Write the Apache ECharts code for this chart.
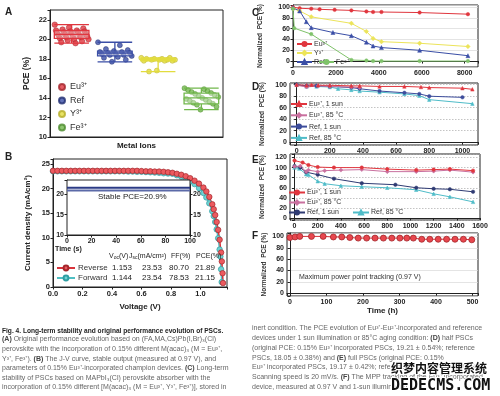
<!DOCTYPE html>
<html>
<head>
<meta charset="utf-8">
<script src="https://cdn.jsdelivr.net/npm/echarts@6/dist/echarts.min.js"></script>
<style>
html, body { margin: 0; padding: 0; background: #fff; }
#main { width: 500px; height: 396px; }
</style>
</head>
<body>
<div id="main"></div>
<script>
// ---- data ----
// A: PCE of individual devices per metal ion
const ionNames = ['Eu³⁺', 'Ref', 'Y³⁺', 'Fe³⁺'];
const pceEu = [21.5, 21.2, 21.1, 21.0, 20.9, 20.9, 20.8, 20.8, 20.7, 20.7, 20.6, 20.6, 20.5, 20.5, 20.4, 20.4, 20.3, 20.3, 20.2, 20.2, 20.1, 20.0, 20.0, 19.9, 19.8, 19.7, 19.6];
const pceRef = [19.7, 19.4, 19.0, 18.9, 18.8, 18.7, 18.7, 18.6, 18.6, 18.5, 18.5, 18.4, 18.4, 18.3, 18.2, 18.1, 17.9, 17.7];
const pceY = [18.1, 18.1, 18.0, 18.0, 18.0, 17.9, 17.9, 17.9, 17.9, 17.8, 17.8, 17.8, 16.8, 16.7];
const pceFe = [15.0, 14.9, 14.8, 14.7, 14.6, 14.5, 14.4, 14.3, 14.2, 14.1, 14.0, 13.9, 13.8, 13.7, 13.6, 13.5, 13.4, 13.3, 13.1, 12.8];
// box stats [min, Q1, median, Q3, max]
const boxEu = [19.6, 20.1, 20.5, 20.9, 21.5];
const boxRef = [17.7, 18.3, 18.6, 18.8, 19.7];
const boxY = [16.7, 17.8, 17.9, 18.0, 18.1];
const boxFe = [12.8, 13.4, 14.0, 14.5, 15.0];

// B: J-V curves
const vRev = [0.00, 0.03, 0.06, 0.09, 0.12, 0.15, 0.18, 0.21, 0.24, 0.27, 0.30, 0.33, 0.36, 0.39, 0.42, 0.45, 0.48, 0.51, 0.54, 0.57, 0.60, 0.63, 0.66, 0.69, 0.72, 0.75, 0.78, 0.81, 0.84, 0.87, 0.90, 0.93, 0.96, 0.99, 1.02, 1.04, 1.06, 1.08, 1.09, 1.10, 1.11, 1.12, 1.13, 1.14, 1.145, 1.15, 1.153];
const jRev = [23.6, 23.6, 23.6, 23.6, 23.6, 23.6, 23.6, 23.6, 23.6, 23.6, 23.6, 23.6, 23.6, 23.6, 23.6, 23.6, 23.6, 23.6, 23.6, 23.6, 23.55, 23.5, 23.5, 23.45, 23.45, 23.4, 23.3, 23.2, 23.0, 22.8, 22.5, 22.1, 21.6, 21.0, 20.2, 19.4, 18.3, 16.8, 15.8, 14.6, 13.2, 11.6, 9.6, 7.0, 5.2, 2.8, 0.8];
const vFwd = [0.00, 0.03, 0.06, 0.09, 0.12, 0.15, 0.18, 0.21, 0.24, 0.27, 0.30, 0.33, 0.36, 0.39, 0.42, 0.45, 0.48, 0.51, 0.54, 0.57, 0.60, 0.63, 0.66, 0.69, 0.72, 0.75, 0.78, 0.81, 0.84, 0.87, 0.90, 0.93, 0.96, 0.99, 1.02, 1.04, 1.06, 1.08, 1.09, 1.10, 1.11, 1.12, 1.13, 1.135, 1.14, 1.144];
const jFwd = [23.5, 23.5, 23.5, 23.5, 23.5, 23.5, 23.5, 23.5, 23.5, 23.5, 23.5, 23.5, 23.5, 23.5, 23.5, 23.5, 23.5, 23.45, 23.45, 23.4, 23.4, 23.35, 23.3, 23.25, 23.2, 23.1, 23.05, 23.0, 22.7, 22.4, 22.0, 21.5, 20.9, 20.1, 19.1, 18.2, 17.0, 15.4, 14.4, 13.2, 11.7, 9.9, 7.6, 6.2, 3.6, 1.0];
const paramHeader = ['(V)', '(mA/cm²)', 'FF(%)', 'PCE(%)'];
const paramRev = ['1.153', '23.53', '80.70', '21.89'];
const paramFwd = ['1.144', '23.54', '78.53', '21.15'];

// B inset: stable output
const tInset = [0, 10, 20, 30, 40, 50, 60, 70, 80, 90, 100];
const jInset = [21.6, 21.6, 21.6, 21.6, 21.6, 21.6, 21.6, 21.6, 21.6, 21.6, 21.6];
const pceInset = [20.9, 20.9, 20.9, 20.9, 20.9, 20.9, 20.9, 20.9, 20.9, 20.9, 20.9];

// C: storage stability (h)
const tCEu = [0, 310, 850, 1240, 1940, 2720, 3420, 3730, 4120, 5900, 8150];
const nCEu = [100, 98, 97, 96, 95, 94, 92, 91, 91, 90, 87];
const tCY = [0, 310, 850, 2720, 3420, 3730, 4120, 5900, 8150];
const nCY = [97, 93, 82, 70, 55, 42, 36, 33, 27];
const tCRef = [0, 310, 620, 850, 1860, 2720, 3420, 3730, 4120, 5900, 8150];
const nCRef = [99, 93, 73, 62, 53, 47, 35, 28, 25, 20, 10];
const tCFe = [0, 60, 850, 2720, 3420, 3730, 4120, 5900, 8150];
const nCFe = [97, 61, 50, 2, 1, 0, 0, 0, 0];

// D: half PSCs
const tDEu1 = [0, 60, 90, 130, 200, 330, 380, 500, 650, 750, 800, 1000, 1060];
const nDEu1 = [100, 99, 100, 99, 99, 98, 98, 97, 97, 96, 95, 94, 92];
const tDEu85 = [0, 60, 130, 200, 330, 380];
const nDEu85 = [99, 96, 98, 97, 96, 95];
const tDRef1 = [0, 60, 120, 200, 330, 380, 500, 650, 740, 800, 1000];
const nDRef1 = [100, 98, 98, 97, 95, 93, 89, 86, 84, 80, 78];
const tDRef85 = [0, 60, 120, 200, 250, 330, 380, 500, 650, 740, 800, 1060];
const nDRef85 = [100, 97, 97, 96, 93, 91, 89, 87, 84, 81, 74, 67];

// E: full PSCs
const tEEu1 = [0, 70, 120, 200, 340, 580, 800, 1050, 1200, 1340, 1540];
const nEEu1 = [114, 110, 105, 101, 100, 100, 97, 95, 96, 97, 94];
const tEEu85 = [0, 50, 100, 120, 200, 260, 400, 580, 800, 1050, 1200, 1340, 1540];
const nEEu85 = [102, 103, 92, 95, 92, 94, 95, 96, 92, 92, 93, 95, 91];
const tERef1 = [0, 50, 100, 200, 340, 580, 870, 1050, 1200, 1340, 1540];
const nERef1 = [103, 100, 91, 86, 78, 69, 66, 60, 58, 57, 52];
const tERef85 = [0, 40, 100, 120, 200, 260, 400, 580, 800, 1050, 1200, 1340, 1540];
const nERef85 = [100, 98, 87, 86, 73, 68, 64, 62, 60, 56, 48, 42, 32];

// F: MPP tracking
const tF = [0, 14, 27, 59, 91, 119, 142, 164, 187, 210, 233, 256, 279, 301, 320, 338, 361, 383, 406, 429, 452, 475, 498];
const nF = [98, 99, 100, 100, 100, 99, 99, 98, 97, 97, 97, 97, 97, 97, 97, 97, 95, 95, 95, 95, 95, 95, 94];

// ---- helpers ----
const FONT = "'Liberation Sans', Arial, sans-serif";
const ZW = '\u200b'; // keeps legend names unique between panels

const pairs = (xs, ys) => xs.map((x, i) => [x, ys[i]]);
// spread device points over the box width (deterministic order)
const spread = (vals, center) => {
    const n = vals.length;
    return vals.map((v, i) => [center + (((i * 11) % n) / (n - 1) - 0.5) * 0.78, v]);
};
const every = (step, dec) => v => (Math.abs(v / step - Math.round(v / step)) < 1e-6 ? v.toFixed(dec) : '');

const tickFont = { fontFamily: FONT, fontSize: 7, fontWeight: 'bold', color: '#222', margin: 3 };
const bigTick = { fontFamily: FONT, fontSize: 7.5, fontWeight: 'bold', color: '#222', margin: 3 };
const axLine = { show: true, lineStyle: { color: '#222', width: 1 } };
const tick = { show: true, length: 2.5, lineStyle: { color: '#222' } };
const legText = { fontFamily: FONT, fontSize: 7, color: '#333', lineHeight: 9, padding: [0, 0, 0, -3] };

function smallX(grid, min, max, split, step) {
    return {
        type: 'value', gridIndex: grid, min: min, max: max, splitNumber: split,
        axisLine: axLine, axisTick: tick, splitLine: { show: false },
        axisLabel: Object.assign({ formatter: every(step, 0) }, tickFont)
    };
}
function smallY(grid, min, max, split, dashed, gap) {
    return {
        type: 'value', gridIndex: grid, min: min, max: max, splitNumber: split,
        name: 'Normalized  PCE (%)', nameLocation: 'middle', nameGap: gap,
        nameTextStyle: { fontFamily: FONT, fontSize: 6.5, fontWeight: 'bold', color: '#333' },
        axisLine: axLine, axisTick: tick,
        splitLine: { show: true, lineStyle: { color: dashed ? '#aaa' : '#d8d8d8', width: 0.7, type: dashed ? [1.5, 1.5] : 'solid' } },
        axisLabel: Object.assign({ formatter: every(20, 0) }, tickFont)
    };
}
function trend(name, xi, yi, xs, ys, color, symbol, size) {
    return {
        name: name, type: 'line', xAxisIndex: xi, yAxisIndex: yi, data: pairs(xs, ys),
        symbol: symbol, symbolSize: size, z: 3,
        lineStyle: { color: color, width: 1 },
        itemStyle: { color: color, borderColor: color, borderWidth: 0.5 }
    };
}
function txt(x, y, s, size, opt) {
    return {
        type: 'text', x: x, y: y, z: 50, silent: true,
        style: Object.assign({
            text: s, font: (opt && opt.weight ? opt.weight + ' ' : '') + size + 'px ' + FONT,
            fill: '#222', align: 'left', verticalAlign: 'middle'
        }, opt && opt.style)
    };
}

const cEu = '#e0363e', cRef = '#3a4ea6', cY = '#e2dc3e', cFe = '#72b84c';
const cEu85 = '#c9709f', cRef85 = '#4fbcc8';

// ---- caption ----
const rich = { b: { font: 'bold 7px ' + FONT, fill: '#444' } };
const capLeft = [
    '{b|(A)} Original performance evolution based on (FA,MA,Cs)Pb(I,Br)₃(Cl)',
    'perovskite with the incorporation of 0.15% different M(acac)₃ (M = Eu³⁺,',
    'Y³⁺, Fe³⁺). {b|(B)} The J-V curve, stable output (measured at 0.97 V), and',
    'parameters of 0.15% Eu³⁺-incorporated champion devices. {b|(C)} Long-term',
    'stability of PSCs based on MAPbI₃(Cl) perovskite absorber with the',
    'incorporation of 0.15% different [M(acac)₃ (M = Eu³⁺, Y³⁺, Fe³⁺)], stored in'
];
const capRight = [
    'inert condition. The PCE evolution of Eu³⁺-Eu²⁺-incorporated and reference',
    'devices under 1 sun illumination or 85°C aging condition: {b|(D)} half PSCs',
    '(original PCE: 0.15% Eu³⁺ incorporated PSCs, 19.21 ± 0.54%; reference',
    'PSCs, 18.05 ± 0.38%) and {b|(E)} full PSCs (original PCE: 0.15%',
    'Eu³⁺ incorporated PSCs, 19.17 ± 0.42%; reference PSCs, 17.58 ± 0.57%).',
    'Scanning speed is 20 mV/s. {b|(F)} The MPP tracking of the Eu³⁺-incorporated',
    'device, measured at 0.97 V and 1-sun illumination.'
];

const subRich = { n: { font: '7px ' + FONT, fill: '#222' }, s: { font: '5px ' + FONT, fill: '#222', padding: [4, 0, 0, 0] } };
const graphics = [
    txt(5, 12, 'A', 10, { weight: 'bold' }),
    txt(5, 157, 'B', 10, { weight: 'bold' }),
    txt(252, 13, 'C', 10, { weight: 'bold' }),
    txt(252, 87, 'D', 10, { weight: 'bold' }),
    txt(252, 160, 'E', 10, { weight: 'bold' }),
    txt(252, 236, 'F', 10, { weight: 'bold' }),
    // inset texts
    txt(98, 197, 'Stable PCE=20.9%', 8),
    txt(55, 249, 'Time (s)', 7, { weight: 'bold' }),
    Object.assign(txt(73, 207, 'J (mA/cm²)', 7, { weight: 'bold', style: { align: 'center' } }), { rotation: Math.PI / 2, originX: 73, originY: 207 }),
    Object.assign(txt(182, 207, 'PCE (%)', 7, { weight: 'bold', style: { align: 'center' } }), { rotation: Math.PI / 2, originX: 182, originY: 207 }),
    // parameter table
    txt(109, 256, '{n|V}{s|oc}{n|' + paramHeader[0] + '}', 7, { style: { rich: subRich } }),
    txt(129, 256, '{n|J}{s|sc}{n|' + paramHeader[1] + '}', 7, { style: { rich: subRich } }),
    txt(171, 256, paramHeader[2], 7),
    txt(196, 256, paramHeader[3], 7),
    txt(112, 268, paramRev[0], 8), txt(142, 268, paramRev[1], 8), txt(169, 268, paramRev[2], 8), txt(195, 268, paramRev[3], 8),
    txt(112, 278, paramFwd[0], 8), txt(142, 278, paramFwd[1], 8), txt(169, 278, paramFwd[2], 8), txt(195, 278, paramFwd[3], 8),
    txt(299, 277, 'Maximum power point tracking (0.97 V)', 7, { style: { fill: '#333' } }),
    txt(2, 331, 'Fig. 4. Long-term stability and original performance evolution of PSCs.', 6.6, { weight: 'bold', style: { fill: '#222' } })
];
capLeft.forEach((s, i) => graphics.push(txt(2, 339.5 + i * 9.6, s, 7, { style: { fill: '#666', rich: rich } })));
capRight.forEach((s, i) => graphics.push(txt(252, 328.5 + i * 9.7, s, 7, { style: { fill: '#666', rich: rich } })));
// site watermark printed over the caption
graphics.push({
    type: 'text', x: 391, y: 368, z: 60, silent: true,
    style: { text: '织梦内容管理系统', font: 'bold 12px "Noto Sans CJK SC"', fill: '#111', stroke: '#fff', lineWidth: 2, verticalAlign: 'middle' }
});
graphics.push({
    type: 'text', x: 391, y: 386, z: 60, silent: true,
    style: { text: 'DEDECMS.COM', font: 'bold 15px "DejaVu Sans Mono"', fill: '#111', stroke: '#fff', lineWidth: 2, verticalAlign: 'middle' }
});

// ---- chart ----
const chart = echarts.init(document.getElementById('main'));

const gridA = { left: 50, top: 10, width: 173, height: 127 };
const option = {
    animation: false,
    backgroundColor: '#fff',
    textStyle: { fontFamily: FONT },
    grid: [
        Object.assign({ show: true, borderColor: '#222', borderWidth: 1 }, gridA),                          // A
        { left: 53, top: 159, width: 174, height: 128, show: true, borderColor: '#222', borderWidth: 1 },  // B
        { left: 67, top: 180, width: 123, height: 55, show: true, borderColor: '#222', borderWidth: 1, backgroundColor: '#fff', z: 4 }, // inset
        { left: 293, top: 5, width: 185, height: 62, show: true, borderColor: '#222', borderWidth: 1 },    // C
        { left: 290, top: 83, width: 188, height: 62, show: true, borderColor: '#222', borderWidth: 1 },   // D
        { left: 290, top: 154, width: 190, height: 66, show: true, borderColor: '#222', borderWidth: 1 },  // E
        { left: 287, top: 233, width: 191, height: 63, show: true, borderColor: '#222', borderWidth: 1 },  // F
        Object.assign({ show: false }, gridA)                                                               // A boxes
    ],
    xAxis: [
        { type: 'value', gridIndex: 0, min: 0, max: 4, axisLabel: { show: false }, axisTick: { show: false }, splitLine: { show: false }, axisLine: axLine,
          name: 'Metal Ions', nameLocation: 'middle', nameGap: 5, nameTextStyle: { fontFamily: FONT, fontSize: 8, fontWeight: 'bold', color: '#222', verticalAlign: 'top' } },
        { type: 'category', gridIndex: 7, data: ionNames, boundaryGap: true, axisLine: { show: false }, axisTick: { show: false }, axisLabel: { show: false }, splitLine: { show: false } },
        { type: 'value', gridIndex: 1, min: 0, max: 1.18, interval: 0.2, axisLine: axLine, axisTick: tick, splitLine: { show: false },
          axisLabel: Object.assign({ formatter: every(0.2, 1) }, bigTick),
          name: 'Voltage (V)', nameLocation: 'middle', nameGap: 16, nameTextStyle: { fontFamily: FONT, fontSize: 8, fontWeight: 'bold', color: '#222', verticalAlign: 'top' } },
        { type: 'value', gridIndex: 2, min: 0, max: 100, interval: 20, axisLine: axLine, axisTick: tick, splitLine: { show: false },
          axisLabel: Object.assign({}, tickFont) },
        smallX(3, 0, 8620, 5, 2000),
        smallX(4, -40, 1094, 5, 200),
        smallX(5, -39, 1600, 8, 200),
        Object.assign(smallX(6, -8, 515, 5, 100), { name: 'Time (h)', nameLocation: 'middle', nameGap: 9,
          nameTextStyle: { fontFamily: FONT, fontSize: 8, fontWeight: 'bold', color: '#222', verticalAlign: 'top' } })
    ],
    yAxis: [
        { type: 'value', gridIndex: 0, min: 10, max: 23, interval: 2, axisLine: axLine, axisTick: tick, splitLine: { show: false },
          axisLabel: Object.assign({ formatter: every(2, 0) }, bigTick),
          name: 'PCE (%)', nameLocation: 'middle', nameGap: 19, nameTextStyle: { fontFamily: FONT, fontSize: 8.5, fontWeight: 'bold', color: '#222' } },
        { type: 'value', gridIndex: 1, min: 0, max: 26, interval: 5, axisLine: axLine, axisTick: tick, splitLine: { show: false },
          axisLabel: Object.assign({ formatter: every(5, 0) }, bigTick),
          name: 'Current density (mA/cm²)', nameLocation: 'middle', nameGap: 21, nameTextStyle: { fontFamily: FONT, fontSize: 8, fontWeight: 'bold', color: '#222' } },
        { type: 'value', gridIndex: 2, min: 10, max: 23.5, interval: 5, axisLine: axLine, axisTick: tick, splitLine: { show: false },
          axisLabel: Object.assign({ formatter: every(5, 0) }, tickFont) },
        { type: 'value', gridIndex: 2, position: 'right', min: 10, max: 23.5, interval: 5, axisLine: axLine, axisTick: tick, splitLine: { show: false },
          axisLabel: Object.assign({ formatter: every(5, 0) }, tickFont) },
        smallY(3, -11, 104, 5, false, 29),
        smallY(4, -5, 103, 5, true, 24),
        smallY(5, -4, 127, 6, true, 24),
        smallY(6, -5, 106, 5, false, 19),
        { type: 'value', gridIndex: 7, min: 10, max: 23, show: false }
    ],
    legend: [
        { data: ionNames, left: 58, top: 82, padding: 0, orient: 'vertical', itemGap: 3.5, icon: 'circle', itemWidth: 6, itemHeight: 6,
          textStyle: { fontFamily: FONT, fontSize: 9, color: '#333', lineHeight: 10 } },
        { data: ['Reverse', 'Forward'], left: 56, top: 263.5, padding: 0, orient: 'vertical', itemGap: 1, itemWidth: 18, itemHeight: 6,
          textStyle: { fontFamily: FONT, fontSize: 8, color: '#333', lineHeight: 9, padding: [0, 0, 0, -2] } },
        { data: ['Eu³⁺' + ZW, 'Y³⁺' + ZW, 'Ref' + ZW], left: 296, top: 39.5, padding: 0, orient: 'vertical', itemGap: 0, itemWidth: 15, itemHeight: 5,
          textStyle: legText },
        { data: ['Fe³⁺' + ZW], left: 318, top: 57.5, padding: 0, itemWidth: 15, itemHeight: 5, textStyle: legText },
        { data: ['Eu³⁺, 1 sun', 'Eu³⁺, 85 °C', 'Ref, 1 sun', 'Ref, 85 °C'], left: 290, top: 99.5, padding: 0, orient: 'vertical', itemGap: 2.3, itemWidth: 16, itemHeight: 5,
          textStyle: legText },
        { data: ['Eu³⁺, 1 sun' + ZW, 'Eu³⁺, 85 °C' + ZW, 'Ref, 1 sun' + ZW], left: 288, top: 188, padding: 0, orient: 'vertical', itemGap: 1, itemWidth: 16, itemHeight: 5,
          textStyle: legText },
        { data: ['Ref, 85 °C' + ZW], left: 352, top: 208, padding: 0, itemWidth: 16, itemHeight: 5, textStyle: legText }
    ],
    series: [
        // A
        { name: ionNames[0], type: 'scatter', xAxisIndex: 0, yAxisIndex: 0, data: spread(pceEu, 0.5), symbolSize: 5.5, z: 2,
          itemStyle: { color: cEu, borderColor: '#a3242b', borderWidth: 0.6 } },
        { name: ionNames[1], type: 'scatter', xAxisIndex: 0, yAxisIndex: 0, data: spread(pceRef, 1.5), symbolSize: 5, z: 2,
          itemStyle: { color: cRef, borderColor: '#1f2d70', borderWidth: 0.6 } },
        { name: ionNames[2], type: 'scatter', xAxisIndex: 0, yAxisIndex: 0, data: spread(pceY, 2.5), symbolSize: 5, z: 2,
          itemStyle: { color: cY, borderColor: '#b5ad28', borderWidth: 0.6 } },
        { name: ionNames[3], type: 'scatter', xAxisIndex: 0, yAxisIndex: 0, data: spread(pceFe, 3.5), symbolSize: 5, z: 2,
          itemStyle: { color: cFe, borderColor: '#4b8a2d', borderWidth: 0.6 } },
        { type: 'boxplot', xAxisIndex: 1, yAxisIndex: 8, boxWidth: ['80%', '80%'], z: 4,
          itemStyle: { color: 'rgba(255,255,255,0.35)', borderWidth: 1.3 },
          data: [
              { value: boxEu, itemStyle: { borderColor: cEu } },
              { value: boxRef, itemStyle: { borderColor: cRef } },
              { value: boxY, itemStyle: { borderColor: cY } },
              { value: boxFe, itemStyle: { borderColor: cFe } }
          ] },
        // B
        { name: 'Forward', type: 'line', xAxisIndex: 2, yAxisIndex: 1, data: pairs(vFwd, jFwd), symbol: 'circle', symbolSize: 5.5,
          lineStyle: { color: '#4fbfc3', width: 1.5 }, itemStyle: { color: '#6fd2d2', borderColor: '#2f9ea3', borderWidth: 0.7 } },
        { name: 'Reverse', type: 'line', xAxisIndex: 2, yAxisIndex: 1, data: pairs(vRev, jRev), symbol: 'circle', symbolSize: 5.5,
          lineStyle: { color: '#d9333b', width: 1.5 }, itemStyle: { color: '#ec5a5f', borderColor: '#a3262b', borderWidth: 0.7 } },
        { type: 'line', xAxisIndex: 3, yAxisIndex: 2, data: pairs(tInset, jInset), symbol: 'none', z: 5,
          lineStyle: { color: '#2b3a85', width: 2.2 } },
        { type: 'line', xAxisIndex: 3, yAxisIndex: 3, data: pairs(tInset, pceInset), symbol: 'none', z: 5,
          lineStyle: { color: '#5c6aa8', width: 2 } },
        // C
        trend('Eu³⁺' + ZW, 4, 4, tCEu, nCEu, cEu, 'circle', 3.5),
        trend('Y³⁺' + ZW, 4, 4, tCY, nCY, '#ece45a', 'diamond', 4.5),
        trend('Ref' + ZW, 4, 4, tCRef, nCRef, cRef, 'triangle', 4),
        trend('Fe³⁺' + ZW, 4, 4, tCFe, nCFe, '#7fc26a', 'circle', 3.5),
        // D
        trend('Ref, 85 °C', 5, 5, tDRef85, nDRef85, cRef85, 'triangle', 3.5),
        trend('Ref, 1 sun', 5, 5, tDRef1, nDRef1, '#3d4d9c', 'circle', 3.5),
        trend('Eu³⁺, 85 °C', 5, 5, tDEu85, nDEu85, cEu85, 'diamond', 4),
        trend('Eu³⁺, 1 sun', 5, 5, tDEu1, nDEu1, cEu, 'triangle', 3.5),
        // E
        trend('Ref, 85 °C' + ZW, 6, 6, tERef85, nERef85, cRef85, 'triangle', 3.5),
        trend('Ref, 1 sun' + ZW, 6, 6, tERef1, nERef1, '#2f3b73', 'circle', 3.5),
        trend('Eu³⁺, 85 °C' + ZW, 6, 6, tEEu85, nEEu85, cEu85, 'diamond', 4),
        trend('Eu³⁺, 1 sun' + ZW, 6, 6, tEEu1, nEEu1, cEu, 'circle', 3.5),
        // F
        { type: 'line', xAxisIndex: 7, yAxisIndex: 7, data: pairs(tF, nF), symbol: 'circle', symbolSize: 6,
          lineStyle: { color: '#d9333b', width: 1 }, itemStyle: { color: '#e8474e', borderColor: '#a3262b', borderWidth: 0.8 } }
    ],
    graphic: graphics
};

chart.setOption(option);
</script>
</body>
</html>
